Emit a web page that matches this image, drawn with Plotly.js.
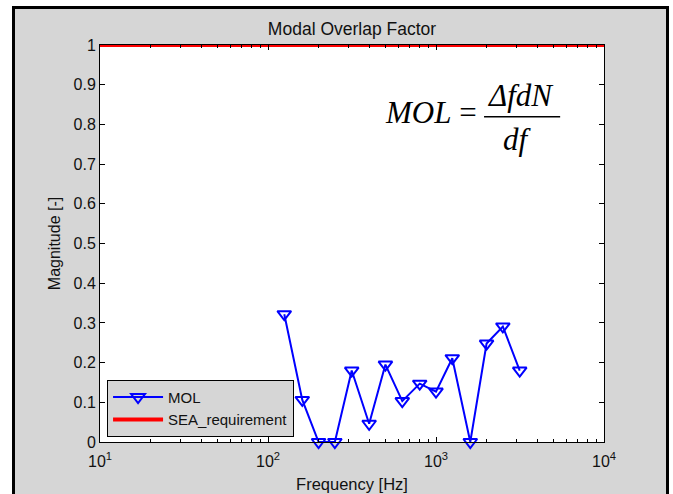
<!DOCTYPE html>
<html>
<head>
<meta charset="utf-8">
<script src="https://cdn.plot.ly/plotly-3.0.1.min.js"></script>
<style>
  html, body { margin: 0; padding: 0; background: #ffffff; overflow: hidden; width: 673px; height: 494px; }
  #frame { position: absolute; left: 12px; top: 6px; width: 651px; height: 500px; border: 3px solid #000; background: #d6d6d6; overflow: hidden; }
  #chart { position: absolute; left: 0; top: 0; width: 651px; height: 485px; }
</style>
</head>
<body>
<div id="frame"><div id="chart"></div></div>
<script>
// Data
const freqs = [125, 160, 200, 250, 315, 400, 500, 630, 800, 1000, 1250, 1600, 2000, 2500, 3150];
const mol = [0.322, 0.106, 0, 0, 0.18, 0.046, 0.195, 0.103, 0.147, 0.127, 0.211, 0, 0.248, 0.291, 0.18];
const seaFreq = [10, 10000];
const seaReq = [1, 1];
const xTickVals = [10, 100, 1000, 10000];
const xTickText = ['10<sup>1</sup>', '10<sup>2</sup>', '10<sup>3</sup>', '10<sup>4</sup>'];
const xMinorVals = [20,30,40,50,60,70,80,90,200,300,400,500,600,700,800,900,2000,3000,4000,5000,6000,7000,8000,9000];
const yTickVals = [0, 0.1, 0.2, 0.3, 0.4, 0.5, 0.6, 0.7, 0.8, 0.9, 1];
const yTickText = ['0', '0.1', '0.2', '0.3', '0.4', '0.5', '0.6', '0.7', '0.8', '0.9', '1'];

const fontFam = 'Liberation Sans, Arial, sans-serif';
const serif = 'Liberation Serif, Times New Roman, serif';
const ink = '#111111';

const traces = [
  {
    x: freqs, y: mol, name: 'MOL', type: 'scatter', mode: 'lines+markers',
    line: { color: '#0000ff', width: 2 },
    marker: { symbol: 'triangle-down-open', size: 12, color: '#0000ff', line: { color: '#0000ff', width: 2 } },
    cliponaxis: false
  },
  {
    x: seaFreq, y: seaReq, name: 'SEA_requirement', type: 'scatter', mode: 'lines',
    line: { color: '#ff0000', width: 4 },
    cliponaxis: false
  }
];

const layout = {
  width: 651, height: 485,
  paper_bgcolor: '#d6d6d6',
  plot_bgcolor: '#ffffff',
  margin: { l: 85, r: 62, t: 36, b: 52 },
  font: { family: fontFam, size: 15, color: ink },
  title: { text: 'Modal Overlap Factor', font: { family: fontFam, size: 17.5, color: ink }, x: 0.5, xref: 'paper', xanchor: 'center', y: 1, yref: 'paper', yanchor: 'bottom', pad: { b: 10 } },
  xaxis: {
    type: 'log', range: [1, 4],
    tickmode: 'array', tickvals: xTickVals, ticktext: xTickText,
    ticks: 'inside', ticklen: 5, tickwidth: 1, tickcolor: '#000',
    minor: { tickmode: 'array', tickvals: xMinorVals, ticks: 'inside', ticklen: 3, tickcolor: '#000', showgrid: false },
    showline: true, linecolor: '#000', linewidth: 1, mirror: 'allticks',
    showgrid: false, zeroline: false,
    ticklabelstandoff: 5,
    tickfont: { family: fontFam, size: 16, color: ink },
    title: { text: 'Frequency [Hz]', font: { family: fontFam, size: 16.5, color: ink }, standoff: 9 }
  },
  yaxis: {
    range: [0, 1],
    tickmode: 'array', tickvals: yTickVals, ticktext: yTickText,
    ticks: 'inside', ticklen: 5, tickwidth: 1, tickcolor: '#000',
    showline: true, linecolor: '#000', linewidth: 1, mirror: 'allticks',
    showgrid: false, zeroline: false,
    tickfont: { family: fontFam, size: 16, color: ink },
    title: { text: 'Magnitude [-]', font: { family: fontFam, size: 16, color: ink }, standoff: 8 }
  },
  showlegend: true,
  legend: {
    x: 0.014, y: 0.013, xanchor: 'left', yanchor: 'bottom',
    bgcolor: '#d6d6d6', bordercolor: '#000', borderwidth: 1,
    font: { family: fontFam, size: 15, color: ink },
    itemwidth: 50,
    tracegroupgap: 0
  },
  annotations: [
    { text: '<i>MOL</i> =', xref: 'paper', yref: 'paper', x: 0.657, y: 0.829, xanchor: 'center', yanchor: 'middle', showarrow: false,
      font: { family: serif, size: 31, color: '#000' } },
    { text: '<i>ΔfdN</i>', xref: 'paper', yref: 'paper', x: 0.835, y: 0.872, xanchor: 'center', yanchor: 'middle', showarrow: false,
      font: { family: serif, size: 31, color: '#000' } },
    { text: '<i>df</i>', xref: 'paper', yref: 'paper', x: 0.829, y: 0.761, xanchor: 'center', yanchor: 'middle', showarrow: false,
      font: { family: serif, size: 31, color: '#000' } }
  ],
  shapes: [
    { type: 'line', xref: 'paper', yref: 'paper', x0: 0.762, x1: 0.913, y0: 0.819, y1: 0.819,
      line: { color: '#000', width: 1.5 } }
  ]
};

Plotly.newPlot('chart', traces, layout, { displayModeBar: false, staticPlot: true });
</script>
</body>
</html>
